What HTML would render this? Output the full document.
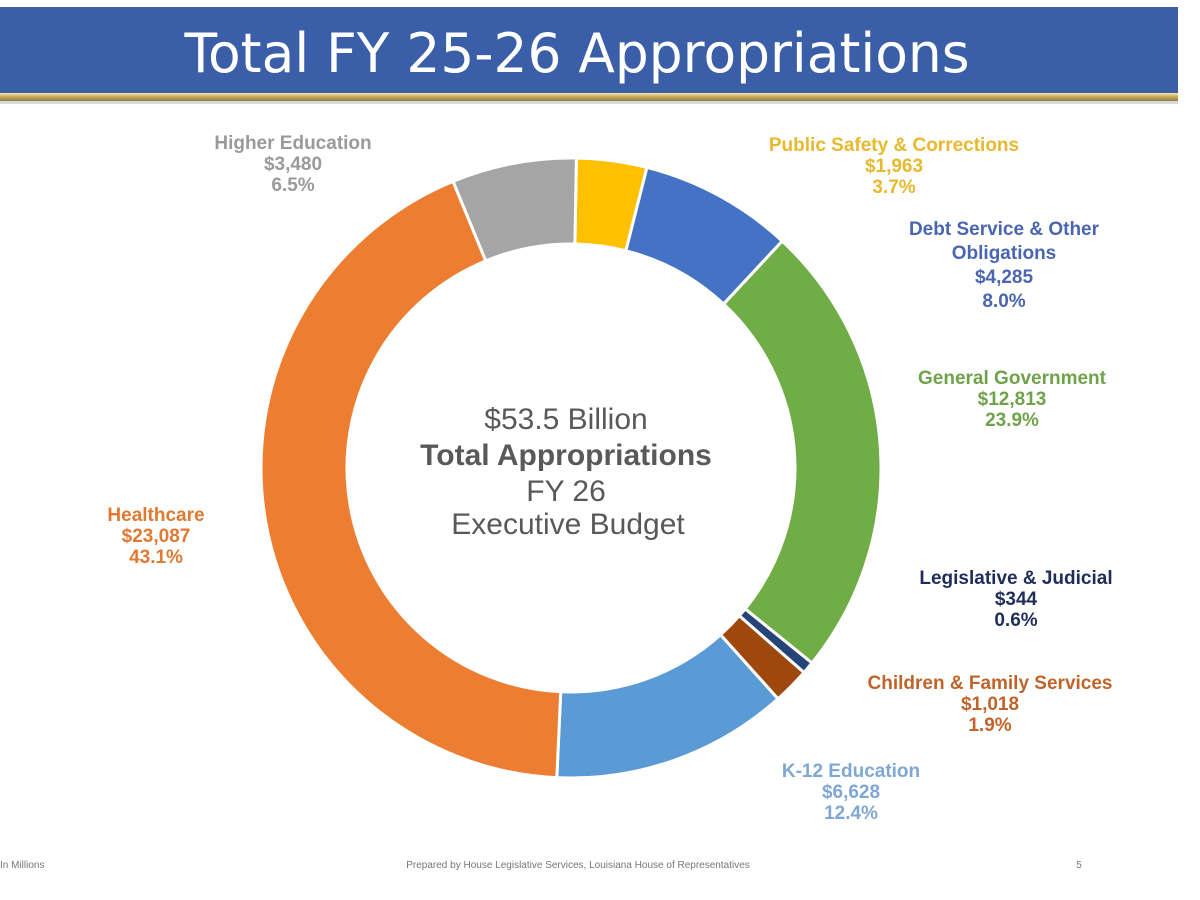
<!DOCTYPE html>
<html><head><meta charset="utf-8"><style>
html,body{margin:0;padding:0;background:#fff;width:1200px;height:900px;overflow:hidden;font-family:"Liberation Sans",sans-serif}
</style></head><body>
<svg width="1200" height="900" viewBox="0 0 1200 900">
<defs><linearGradient id="gold" x1="0" y1="0" x2="0" y2="1"><stop offset="0" stop-color="#f3e7b3"/><stop offset="0.5" stop-color="#c9a94e"/><stop offset="1" stop-color="#8a7a50"/></linearGradient></defs>
<rect x="0" y="7" width="1178" height="86" fill="#3a5ea8"/>
<rect x="0" y="93" width="1178" height="8" fill="url(#gold)"/>
<rect x="0" y="101" width="1178" height="3" fill="#d8d8d8"/>
<text x="577" y="72" text-anchor="middle" font-size="54" fill="#fff" style="font-family:'DejaVu Sans','Liberation Sans',sans-serif" textLength="785" lengthAdjust="spacingAndGlyphs">Total FY 25-26 Appropriations</text>
<g id="donut"></g>
<g font-size="30" fill="#595959" text-anchor="middle">
<text x="566" y="429">$53.5 Billion</text>
<text x="566" y="465" font-weight="bold">Total Appropriations</text>
<text x="566" y="501">FY 26</text>
<text x="568" y="534">Executive Budget</text>
</g>
<g id="labels" font-size="19" font-weight="bold" text-anchor="middle"></g>
<g font-size="10" fill="#777">
<text x="0" y="868">In Millions</text>
<text x="578" y="868" text-anchor="middle">Prepared by House Legislative Services, Louisiana House of Representatives</text>
<text x="1079" y="868" text-anchor="middle">5</text>
</g>
</svg>
<script>
const categories=["Public Safety & Corrections","Debt Service & Other Obligations","General Government","Legislative & Judicial","Children & Family Services","K-12 Education","Healthcare","Higher Education"];
const amounts=[1963,4285,12813,344,1018,6628,23087,3480];
const amountLabels=["$1,963","$4,285","$12,813","$344","$1,018","$6,628","$23,087","$3,480"];
const percentLabels=["3.7%","8.0%","23.9%","0.6%","1.9%","12.4%","43.1%","6.5%"];
const colors=["#FFC000","#4472C4","#70AD47","#264478","#9E480E","#5B9BD5","#ED7D31","#A5A5A5"];
const textColors=["#e8b92e","#4a66b0","#6fa24a","#1f2d5a","#c0642a","#7fa7d4","#e07a32","#9a9a9a"];
const labelPos=[[894,151],[1004,235],[1012,384],[1016,584],[990,689],[851,777],[156,521],[293,149]];
const cx=571,cy=468,R=310,r=224;
const ns="http://www.w3.org/2000/svg";
const total=amounts.reduce((a,b)=>a+b,0);
const g=document.getElementById('donut');
let a0=1*Math.PI/180;
function pt(a,rad){return [cx+rad*Math.sin(a),cy-rad*Math.cos(a)];}
amounts.forEach((v,i)=>{
  const a1=a0+v/total*2*Math.PI;
  const p1=pt(a0,R),p2=pt(a1,R),p3=pt(a1,r),p4=pt(a0,r);
  const lg=(a1-a0)>Math.PI?1:0;
  const p=document.createElementNS(ns,'path');
  p.setAttribute('d',`M${p1[0]},${p1[1]}A${R},${R} 0 ${lg} 1 ${p2[0]},${p2[1]}L${p3[0]},${p3[1]}A${r},${r} 0 ${lg} 0 ${p4[0]},${p4[1]}Z`);
  p.setAttribute('fill',colors[i]);p.setAttribute('stroke','#fff');p.setAttribute('stroke-width','3');
  
  
  g.appendChild(p);
  a0=a1;
});
const L=document.getElementById('labels');
categories.forEach((c,i)=>{
  const lines=c==="Debt Service & Other Obligations"?["Debt Service & Other","Obligations"]:[c];
  const all=lines.concat([amountLabels[i],percentLabels[i]]);
  const t=document.createElementNS(ns,'text');
  t.setAttribute('fill',textColors[i]);
  
  
  all.forEach((s,j)=>{
    const ts=document.createElementNS(ns,'tspan');
    ts.setAttribute('x',labelPos[i][0]);
    ts.setAttribute('y',labelPos[i][1]+j*(i===1?24:21));
    ts.textContent=s;t.appendChild(ts);
  });
  L.appendChild(t);
});
</script>
</body></html>
